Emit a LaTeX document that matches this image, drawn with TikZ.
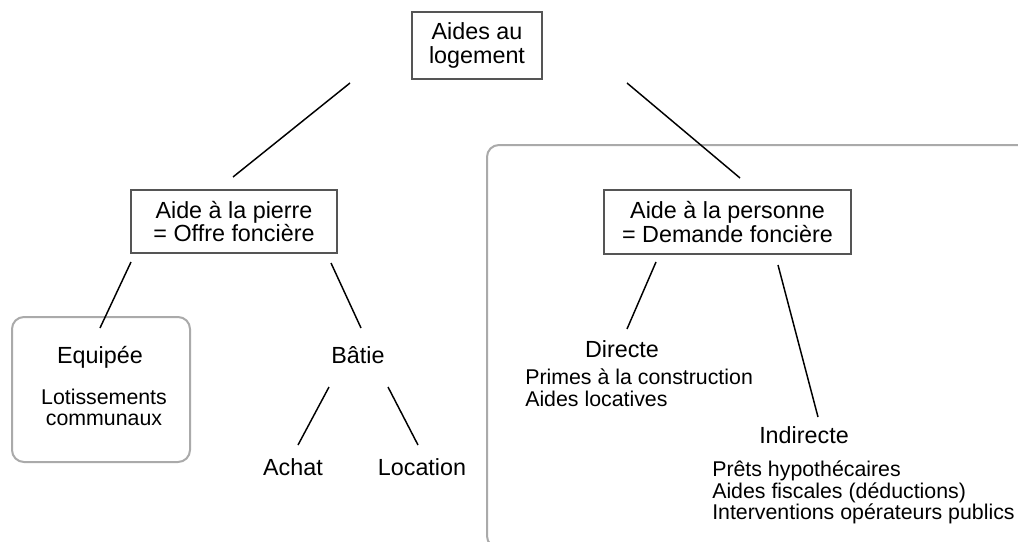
\documentclass[tikz,border=0pt]{standalone}
\usepackage{fontspec}
\setmainfont{Liberation Sans}
\definecolor{boxgray}{RGB}{85,85,85}
\definecolor{framegray}{RGB}{170,170,170}

\begin{document}
\begin{tikzpicture}[x=0.75pt,y=0.75pt,yscale=-1,xscale=1,
  mainbox/.style={draw=boxgray,line width=0.8pt,inner sep=0pt,align=center,font=\fontsize{17.5}{17.4}\selectfont},
  maintext/.style={inner sep=0pt,font=\fontsize{17.5}{17.4}\selectfont},
  subtext/.style={inner sep=0pt,font=\fontsize{16}{15.8}\selectfont},
  frame/.style={draw=framegray,line width=1.5pt,rounded corners=9pt},
  branch/.style={line width=1.1pt}]
\useasboundingbox (0,0) rectangle (1018,542);

%Shape: Rounded Rect
\draw [frame] (487,145) rectangle (1035,548) ;
%Shape: Rounded Rect
\draw [frame] (12,317) rectangle (190,462) ;

% Box Nodes
\node [mainbox,minimum width=97.5pt,minimum height=50.25pt] (aides) at (477,45.5) {Aides au\\logement};
\node [mainbox,minimum width=154.5pt,minimum height=47.25pt] (pierre) at (234,221.5) {Aide à la pierre\\= Offre foncière};
\node [mainbox,minimum width=185.25pt,minimum height=48pt] (personne) at (727.5,222) {Aide à la personne\\= Demande foncière};

% Text Node
\node [maintext,anchor=base] (equipee) at (100,363) {Equipée};
\node [subtext,align=center] (lotis) at (104,407) {Lotissements\\communaux};
\node [maintext,anchor=base] (batie) at (358,363) {Bâtie};
\node [maintext,anchor=base] (achat) at (293,475) {Achat};
\node [maintext,anchor=base] (location) at (422,475) {Location};
\node [maintext,anchor=base] (directe) at (622,357) {Directe};
\node [subtext,align=left,anchor=north west] (primes) at (525,369) {Primes à la construction\\Aides locatives};
\node [maintext,anchor=base] (indirecte) at (804,443) {Indirecte};
\node [subtext,align=left,anchor=north west] (prets) at (712,461) {Prêts hypothécaires\\Aides fiscales (déductions)\\Interventions opérateurs publics};

% Line Ends
\coordinate (aides-l) at (350,83);
\coordinate (pierre-t) at (233,177);
\coordinate (aides-r) at (627,83);
\coordinate (personne-t) at (740,178);
\coordinate (pierre-l) at (131,262);
\coordinate (equipee-t) at (100,328);
\coordinate (pierre-r) at (331,263);
\coordinate (batie-t) at (361,328);
\coordinate (batie-l) at (329,387);
\coordinate (achat-t) at (298,445);
\coordinate (batie-r) at (388,387);
\coordinate (location-t) at (418,445);
\coordinate (personne-l) at (656,262);
\coordinate (directe-t) at (627,329);
\coordinate (personne-r) at (778,265);
\coordinate (indirecte-t) at (818,417);

%Straight Lines
\draw [branch] (aides-l) -- (pierre-t) ;
\draw [branch] (aides-r) -- (personne-t) ;
\draw [branch] (pierre-l) -- (equipee-t) ;
\draw [branch] (pierre-r) -- (batie-t) ;
\draw [branch] (batie-l) -- (achat-t) ;
\draw [branch] (batie-r) -- (location-t) ;
\draw [branch] (personne-l) -- (directe-t) ;
\draw [branch] (personne-r) -- (indirecte-t) ;

\end{tikzpicture}
\end{document}
